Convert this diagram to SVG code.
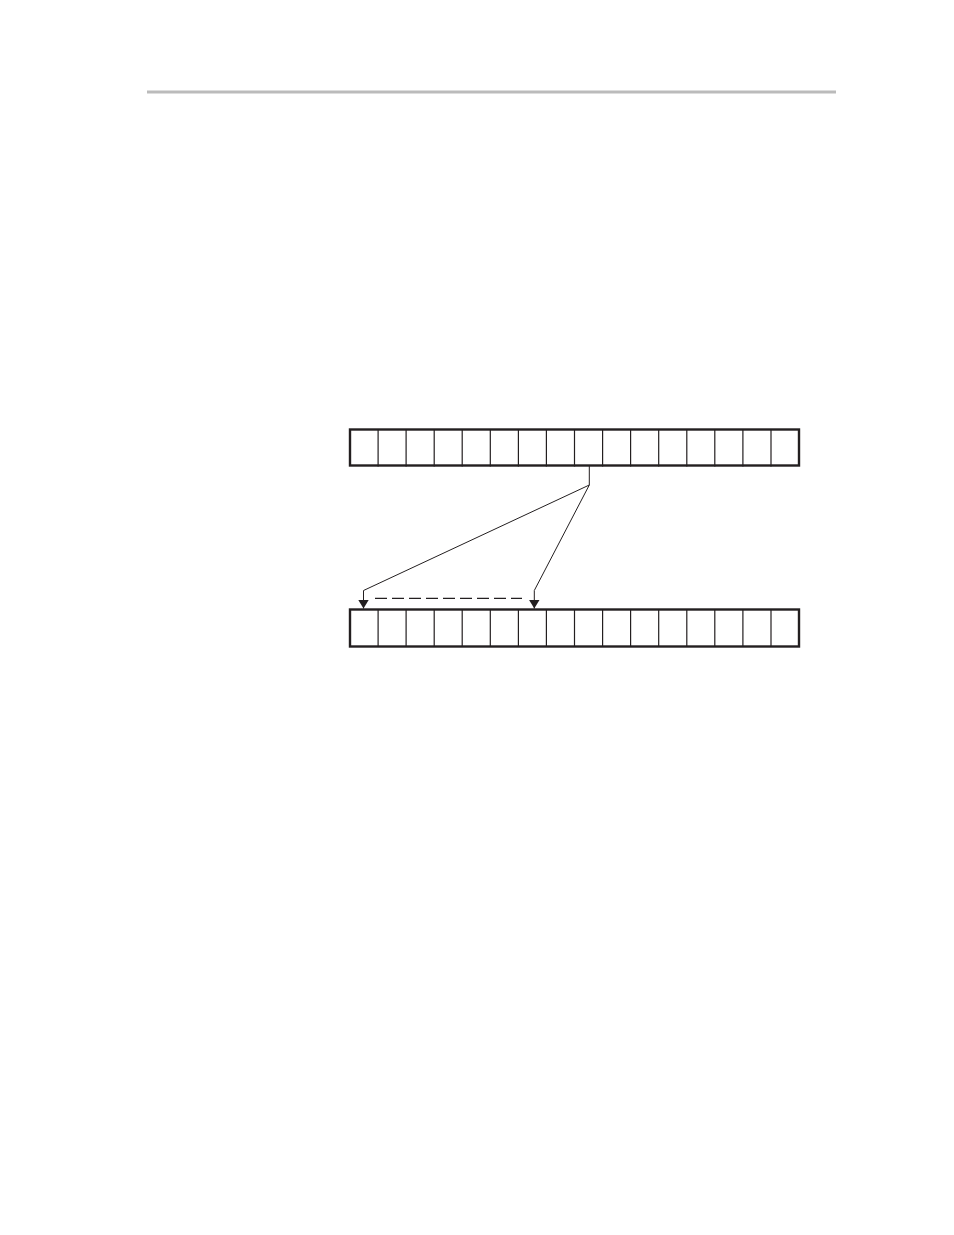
<svg xmlns="http://www.w3.org/2000/svg" width="954" height="1235" viewBox="0 0 954 1235">
<style>
.outer{fill:#fff;stroke:#231f20;stroke-width:2.4}
.div{stroke:#231f20;stroke-width:1.2}
.wire{fill:none;stroke:#231f20;stroke-width:1}
.dash{fill:none;stroke:#231f20;stroke-width:1.2;stroke-dasharray:12 5}
</style>
<defs>
<marker id="arr" viewBox="0 0 9 11" refX="9" refY="5.5" markerWidth="9" markerHeight="11" markerUnits="userSpaceOnUse" orient="auto">
<path d="M0,0 L9,5.5 L0,11 Z" fill="#231f20"/>
</marker>
<g id="cells">
<path class="div" d="M378.1,0V37M406.1,0V37M434.2,0V37M462.2,0V37M490.3,0V37M518.4,0V37M546.4,0V37M574.5,0V37M602.6,0V37M630.6,0V37M658.7,0V37M686.8,0V37M714.8,0V37M742.9,0V37M771,0V37"/>
</g>
</defs>
<rect x="147" y="90.5" width="689" height="3" fill="#bbbbbb"/>
<g id="top-register">
<rect class="outer" x="350" y="429.5" width="449" height="36"/>
<use href="#cells" y="429.5"/>
</g>
<g id="bottom-register">
<rect class="outer" x="350" y="609.5" width="449" height="37"/>
<use href="#cells" y="609.5"/>
</g>
<g id="connectors">
<path class="wire" d="M589.3,466 V485 L363.5,590.5 V608.5" marker-end="url(#arr)"/>
<path class="wire" d="M589.3,485 L534.3,590.5 V608.5" marker-end="url(#arr)"/>
<path class="dash" d="M375,598.3 H522"/>
</g>
</svg>
